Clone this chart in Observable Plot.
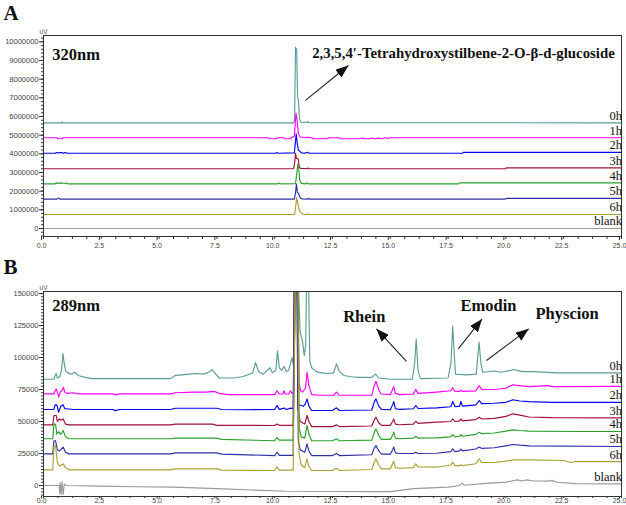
<!DOCTYPE html>
<html><head><meta charset="utf-8">
<script src="https://cdn.jsdelivr.net/npm/d3@7"></script>
<script src="https://cdn.jsdelivr.net/npm/@observablehq/plot@0.6"></script>
<style>
body{margin:0;background:#fff;}
#wrap{position:relative;width:626px;height:505px;overflow:hidden;background:#fff;}
#pa{position:absolute;left:0;top:0;}
#pb{position:absolute;left:0;top:250px;}
</style></head><body>
<div id="wrap"><div id="pa"></div><div id="pb"></div></div>
<script>
// ---------- categories / styling keys ----------
const seriesNames = ["0h","1h","2h","3h","4h","5h","6h","blank"];
const seriesColors = ["#5b9c98","#ff00ff","#0000f0","#a01038","#2ca02c","#2e2ea6","#a9a232","#9a9a9a"];
const xMajorTicks = [0,2.5,5,7.5,10,12.5,15,17.5,20,22.5,25];
const yMajorTicksA = [0,1e6,2e6,3e6,4e6,5e6,6e6,7e6,8e6,9e6,1e7];
const yMajorTicksB = [0,25000,50000,75000,100000,125000,150000];

// ---------- Panel A (320 nm), values in millions of uV: [time, value] ----------
const a0h = [[0,5.66],[0.78,5.66],[0.8,5.71],[0.83,5.66],[10.82,5.66],[10.86,5.8],[10.9,9.7],[10.95,9.6],[10.99,7.0],[11.03,6.85],[11.07,5.9],[11.12,5.7],[11.4,5.68],[11.43,5.73],[11.47,5.67],[25,5.66]];
const a1h = [[0,4.86],[0.6,4.86],[0.62,4.81],[0.82,4.81],[0.84,4.86],[9.72,4.86],[9.75,4.81],[10.1,4.81],[10.12,4.86],[10.4,4.86],[10.42,4.81],[10.7,4.81],[10.72,4.86],[10.85,4.95],[10.92,6.18],[10.97,5.8],[11.02,5.1],[11.1,4.9],[11.4,4.86],[11.45,4.9],[11.5,4.86],[11.62,4.86],[11.65,4.81],[12.0,4.81],[12.05,4.84],[12.1,4.81],[12.3,4.81],[12.33,4.86],[12.8,4.86],[12.83,4.81],[13.7,4.81],[13.8,4.84],[13.9,4.81],[14.1,4.81],[14.2,4.85],[14.3,4.81],[14.5,4.84],[14.6,4.81],[14.8,4.86],[14.9,4.82],[15.0,4.86],[25,4.86]];
const a2h = [[0,4.03],[0.52,4.03],[0.55,4.07],[0.65,4.05],[0.75,4.07],[0.85,4.04],[0.95,4.07],[1.03,4.03],[10.05,4.03],[10.1,4.07],[10.15,4.03],[10.85,4.05],[10.93,5.07],[10.98,4.5],[11.02,4.2],[11.08,4.15],[11.15,4.05],[11.35,4.04],[11.42,4.08],[11.5,4.03],[18.12,4.03],[18.16,4.08],[25,4.08]];
const a3h = [[0,3.2],[10.82,3.2],[10.86,3.5],[10.9,4.03],[10.94,3.75],[11.02,3.72],[11.06,3.3],[11.12,3.22],[11.42,3.2],[11.46,3.24],[11.5,3.2],[19.98,3.2],[20.02,3.25],[25,3.25]];
const a4h = [[0,2.39],[0.5,2.39],[0.55,2.44],[0.7,2.42],[0.8,2.44],[0.9,2.41],[1.0,2.44],[1.05,2.39],[10.12,2.39],[10.17,2.44],[10.22,2.39],[10.9,2.4],[10.96,3.0],[11.0,3.47],[11.04,3.2],[11.08,2.6],[11.15,2.42],[11.35,2.39],[11.4,2.45],[11.45,2.39],[17.94,2.39],[17.98,2.44],[25,2.44]];
const a5h = [[0,1.57],[0.58,1.57],[0.61,1.62],[0.68,1.62],[0.71,1.57],[10.85,1.57],[10.9,1.9],[10.94,2.38],[10.98,1.95],[11.04,1.85],[11.1,1.65],[11.18,1.58],[11.42,1.57],[11.46,1.62],[11.5,1.57],[19.98,1.57],[20.02,1.61],[25,1.61]];
const a6h = [[0,0.75],[10.86,0.75],[10.9,1.1],[10.95,1.65],[11.0,1.35],[11.06,1.0],[11.12,0.85],[11.2,0.78],[11.3,0.75],[11.42,0.75],[11.46,0.79],[11.5,0.75],[25,0.75]];
const aBlank = [[0,0],[25,0]];

// ---------- Panel B (289 nm), values in thousands of uV: [time, value] ----------
const b0h = [[0,83],[0.45,83],[0.5,86],[0.55,87.5],[0.6,84],[0.7,85],[0.78,90],[0.84,103],[0.9,95],[0.95,90],[1.05,88],[1.2,87],[1.35,88.5],[1.5,86],[1.8,84.5],[2.1,83.5],[5.5,83.5],[5.7,86],[6.0,86.5],[6.3,87],[6.6,87.5],[6.9,87],[7.1,88],[7.3,90.5],[7.45,87],[7.6,84],[8.2,84],[8.6,85],[8.9,87],[9.05,88],[9.17,96],[9.3,89],[9.5,87],[9.8,92],[9.9,88],[10.05,90],[10.12,105],[10.2,92],[10.3,90],[10.4,93],[10.5,89],[10.6,90],[10.75,100],[10.82,93],[10.86,120],[10.9,160],[11.02,160],[11.1,120],[11.2,113],[11.28,101.5],[11.34,110],[11.38,160],[11.46,160],[11.52,97],[11.6,92],[11.8,89],[12.0,88],[12.3,87.5],[12.55,88],[12.67,95],[12.8,89],[13.0,86],[13.3,85],[13.6,84.5],[14.2,84.5],[14.36,87],[14.5,84],[15.0,83],[15.95,83],[16.05,95],[16.12,114.5],[16.2,90],[16.3,83.5],[17.5,84],[17.62,95],[17.7,124.5],[17.76,105],[17.82,87],[18.3,86.5],[18.72,87],[18.78,100],[18.84,112],[18.92,95],[19.0,88.5],[19.5,89.5],[19.8,88.5],[20.34,90.6],[20.7,89],[21.2,89],[22.2,88],[25,88]];
const b1h = [[0,71.6],[0.45,71.6],[0.5,74],[0.55,75.5],[0.62,72],[0.66,69],[0.72,73],[0.8,74],[0.86,76.8],[0.92,73],[1.0,72],[1.3,72.5],[1.5,71.6],[3.0,71.6],[3.1,70.8],[3.3,71.6],[5.5,71.6],[5.7,72.5],[6.5,73],[7.0,73],[7.4,73.5],[7.6,72],[8.0,71],[10.0,71],[10.1,74],[10.2,71.5],[10.35,71.5],[10.4,74],[10.45,71.5],[10.6,71.5],[10.68,74],[10.75,72],[10.83,73],[10.88,160],[11.0,160],[11.05,80],[11.12,74],[11.2,73],[11.33,76],[11.4,88.5],[11.48,78],[11.6,71],[12.0,70.5],[12.55,70.5],[12.67,73],[12.8,70.5],[14.2,70.5],[14.3,78],[14.38,81.5],[14.5,75],[14.6,71.5],[15.0,71],[15.1,75],[15.15,77.3],[15.22,72],[15.4,71],[16.0,71.5],[16.1,75],[16.2,72],[17.0,73],[17.62,74],[17.7,76.3],[17.8,73.5],[18.0,73.5],[18.05,74.5],[18.12,73.5],[18.7,74],[18.85,78],[18.95,75],[19.5,75],[20.0,76],[20.3,78.7],[20.6,78],[21.0,77.3],[21.8,78],[22.0,77.3],[25,77.5]];
const b2h = [[0,59.4],[0.45,59.4],[0.5,63],[0.58,63],[0.65,57.3],[0.75,62],[0.85,63],[0.92,60],[1.0,60],[1.3,59.4],[3.0,59.4],[3.1,58.5],[3.3,59.4],[5.5,59.4],[5.7,60.4],[7.5,60.4],[7.7,59.4],[8.5,59.2],[10.0,59.4],[10.1,62.5],[10.2,59.5],[10.4,60.5],[10.5,59.4],[10.7,60.5],[10.8,60],[10.86,160],[10.98,160],[11.02,64],[11.12,62.5],[11.25,62],[11.33,64],[11.4,67.7],[11.48,62],[11.6,58.6],[12.5,58.6],[12.67,60.7],[12.8,58.6],[14.2,59],[14.3,65],[14.38,67.7],[14.5,62],[14.62,59.5],[15.0,59.2],[15.1,63],[15.15,65.6],[15.22,60],[15.4,59.5],[16.0,60],[16.1,62.5],[16.2,60.2],[17.0,60.7],[17.62,61.5],[17.7,65.6],[17.8,61.5],[18.0,62],[18.05,65.6],[18.12,62],[18.7,63],[18.85,66.4],[18.95,64],[19.5,64.3],[20.0,65],[20.3,67],[20.6,66],[21.0,65.5],[22.0,65],[25,65]];
const b3h = [[0,47.4],[0.4,47.4],[0.45,54.7],[0.55,54.7],[0.6,50],[0.68,52],[0.75,51],[0.85,52],[0.95,48],[1.1,47.4],[5.5,47.4],[5.7,48],[7.3,48],[7.5,47],[10.0,46.9],[10.1,48],[10.2,47],[10.8,47],[10.84,160],[10.96,160],[11.0,60],[11.1,50],[11.3,48],[11.4,54.7],[11.48,50],[11.6,46],[12.5,46],[12.67,47.5],[12.8,46],[14.2,46.5],[14.3,51],[14.38,53.4],[14.5,49],[14.62,47],[15.0,47],[15.1,50],[15.15,52],[15.22,48],[15.4,47.5],[16.0,48],[16.1,50.2],[16.2,48.5],[17.0,49.5],[17.62,50],[17.7,52],[17.8,50],[18.0,50.5],[18.05,52],[18.12,50.5],[18.7,51.5],[18.85,53.4],[18.95,52],[19.5,52.5],[20.0,54],[20.3,56],[20.6,55],[21.0,53.5],[22.0,53],[25,52.9]];
const b4h = [[0,36.5],[0.4,36.5],[0.45,48],[0.52,48],[0.58,40],[0.65,42],[0.75,40],[0.85,43],[0.95,38],[1.1,36.5],[5.5,36.5],[5.7,37],[7.5,37],[7.7,36],[10.0,35],[10.1,37.5],[10.2,35.5],[10.8,35.5],[10.9,160],[11.02,160],[11.06,45],[11.15,38],[11.3,37],[11.4,47],[11.48,40],[11.6,35],[12.5,35],[12.67,36.5],[12.8,35],[14.2,35.5],[14.3,41],[14.38,44.3],[14.5,39],[14.62,36],[15.0,36],[15.1,39.5],[15.15,41.7],[15.22,37],[15.4,36.5],[16.0,37],[16.1,38.5],[16.2,37],[17.0,37.2],[17.62,38],[17.7,39.8],[17.8,38],[18.0,38.5],[18.05,39.8],[18.12,38.5],[18.7,40],[18.85,41.6],[18.95,40.5],[19.5,41],[20.0,42.5],[20.3,43.5],[20.6,43],[21.0,42.5],[23.0,42.2],[25,42.2]];
const b5h = [[0,24.7],[0.4,24.7],[0.45,35],[0.52,35],[0.6,28],[0.7,27],[0.85,30],[0.95,26],[1.1,24.7],[5.5,24.7],[5.7,25.5],[7.5,25.5],[7.7,24.5],[10.0,23.4],[10.1,26],[10.2,23.5],[10.8,23.5],[10.85,160],[10.97,160],[11.02,35],[11.1,28],[11.3,26],[11.4,32.5],[11.48,27],[11.6,23.4],[12.5,23.4],[12.67,25],[12.8,23.4],[14.2,24],[14.3,29],[14.38,31.2],[14.5,27],[14.62,24.5],[15.0,24.5],[15.1,28],[15.15,30],[15.22,25.5],[15.4,25],[16.0,25],[16.1,26],[16.2,25],[17.0,25.2],[17.62,26.5],[17.7,28.6],[17.8,26.5],[18.0,27],[18.05,28.5],[18.12,27],[18.7,28.5],[18.85,30],[18.95,29],[19.5,29.5],[20.0,31],[20.3,32],[20.6,31.5],[21.0,31],[25,30.5]];
const b6h = [[0,12.2],[0.4,12.2],[0.45,31],[0.52,31],[0.6,18],[0.7,15],[0.85,17],[0.95,14],[1.1,12.2],[5.5,12.2],[5.7,13],[7.5,13],[7.7,12],[10.0,11.7],[10.1,14.5],[10.2,12],[10.8,12],[10.88,160],[11.0,160],[11.05,25],[11.15,16],[11.3,14],[11.4,20.8],[11.48,15],[11.6,11.7],[12.5,11.7],[12.67,13.5],[12.8,11.7],[14.2,12.5],[14.3,18],[14.38,20.8],[14.5,16],[14.62,13],[15.0,13],[15.1,17],[15.15,19],[15.22,14],[15.4,13.5],[16.0,14],[16.1,17],[16.2,14.5],[17.0,14.3],[17.62,16],[17.7,18.2],[17.8,15.5],[18.0,15.5],[18.05,16.2],[18.12,15.5],[18.7,17],[18.85,20.8],[18.95,18],[19.5,18],[20.0,19],[20.3,20],[21.0,20],[22.5,19.5],[22.8,18],[23.0,18.7],[25,18.7]];
const bBlank = [[0,0],[0.5,0],[0.68,0],[0.7,-6],[0.72,2],[0.76,-7],[0.8,2.6],[0.85,-7],[0.9,1],[1.0,0],[2.5,-0.5],[4.0,-1],[5.6,-1.3],[7.5,-2.5],[9.0,-3.5],[10.5,-4.5],[14.6,-4.8],[15.0,-4.8],[16.0,-2.5],[17.5,-1.3],[18.0,0],[18.1,1.8],[18.2,0.2],[19.0,1.5],[20.0,2.6],[20.5,4.4],[20.7,3.5],[20.9,4.4],[21.2,3.5],[21.8,3.4],[22.0,4],[22.2,2.5],[23.0,1.5],[25,1.3]];

// ---------- annotations (data space) ----------
const annoA = [{label:"2,3,5,4\u2032-Tetrahydroxystilbene-2-O-\u03b2-d-glucoside", t:11.62, v:9.13e6}];
const wavelengthA = [{label:"320nm", t:0.38, v:9.04e6}];
const arrowsA = [{t1:11.33, v1:6.86e6, t2:13.19, v2:8.73e6}];
const annoB = [{label:"Rhein", t:12.96, v:127600},{label:"Emodin", t:18.04, v:136700},{label:"Physcion", t:21.28, v:130200}];
const wavelengthB = [{label:"289nm", t:0.38, v:136700}];
const arrowsB = [{t1:15.7, v1:96900, t2:14.4, v2:122400},{t1:17.94, v1:106800, t2:18.97, v2:130200},{t1:19.16, v1:97700, t2:20.99, v2:122400}];

const UNIT_A = 1e6, UNIT_B = 1e3;
const serif = "'Liberation Serif','Times New Roman',serif";
const sans = "'Liberation Sans',Arial,sans-serif";

function toRows(list, unit) {
  const rows = [];
  list.forEach((s, i) => s.forEach(([t, v]) => rows.push({t, v: v * unit, series: seriesNames[i]})));
  return rows;
}
function lastRows(list, unit) {
  return list.map((s, i) => ({t: s[s.length-1][0], v: s[s.length-1][1]*unit, series: seriesNames[i]}));
}
function fixMarkers(svg) {
  svg.querySelectorAll("marker").forEach(m => {
    m.setAttribute("viewBox", "-13 -5 13 10");
    m.setAttribute("markerWidth", "13");
    m.setAttribute("markerHeight", "10");
    m.setAttribute("markerUnits", "userSpaceOnUse");
    m.setAttribute("refX", "0");
    m.setAttribute("refY", "0");
    m.setAttribute("fill", "#111");
    m.setAttribute("stroke", "none");
    while (m.firstChild) m.removeChild(m.firstChild);
    const p = document.createElementNS("http://www.w3.org/2000/svg", "path");
    p.setAttribute("d", "M-13,-5L0,0L-13,5Z");
    m.appendChild(p);
  });
}

function panel(cfg) {
  const rows = toRows(cfg.series, cfg.unit);
  const ends = lastRows(cfg.series, cfg.unit);
  const svg = Plot.plot({
    width: 626, height: cfg.height,
    marginLeft: 43, marginRight: 5, marginTop: cfg.mt, marginBottom: cfg.mb,
    x: {domain: [0, 25]},
    y: {domain: cfg.ydomain},
    color: {domain: seriesNames, range: seriesColors},
    style: {fontFamily: sans, fontSize: "7px", background: "white", color: "#333"},
    marks: [
      Plot.line(rows, {x: "t", y: "v", z: "series", stroke: "series", strokeWidth: 1.15, clip: true}),
      Plot.frame({stroke: "#333", strokeWidth: 1}),
      Plot.axisY(d3.range(cfg.minorY[0], cfg.minorY[1], cfg.minorY[2]), {tickSize: 2, tickFormat: () => "", stroke: "#333"}),
      Plot.axisY(cfg.yticks, {tickSize: 4, tickPadding: 1, tickFormat: d3.format("d"), stroke: "#333", fill: "#444", fontSize: 7.5}),
      Plot.axisX(d3.range(0, 25.0001, 0.625), {tickSize: cfg.xMinorSize, tickFormat: () => "", stroke: "#333"}),
      Plot.axisX(xMajorTicks, {tickSize: cfg.xMajorSize, tickPadding: cfg.xpad, tickFormat: d3.format(".1f"), stroke: "#333", fill: "#444", fontSize: 7, dx: -2}),
      Plot.text(["uV"], {text: d => d, frameAnchor: "top-left", dy: -2, lineAnchor: "bottom", textAnchor: "middle", fontSize: 6.5, fill: "#555"}),
      Plot.text([cfg.letter], {text: d => d, frameAnchor: "top-left", dx: -40, dy: cfg.letterDy, lineAnchor: "bottom", textAnchor: "start", fontFamily: serif, fontWeight: "bold", fontSize: 21, fill: "#111"}),
      Plot.text(cfg.wave, {x: "t", y: "v", text: "label", lineAnchor: "bottom", textAnchor: "start", fontFamily: serif, fontWeight: "bold", fontSize: 16.5, fill: "#111"}),
      Plot.text(cfg.anno, {x: "t", y: "v", text: "label", lineAnchor: "bottom", textAnchor: "start", fontFamily: serif, fontWeight: "bold", fontSize: cfg.annoSize, fill: "#111"}),
      Plot.link(cfg.arrows, {x1: "t1", y1: "v1", x2: "t2", y2: "v2", stroke: "#222", strokeWidth: 1.1, markerEnd: "arrow"}),
      Plot.text(ends, {x: "t", y: "v", text: "series", dx: 0.5, dy: -3, lineAnchor: "bottom", textAnchor: "end", fontFamily: serif, fontSize: 12.5, fill: "#111"})
    ]
  });
  fixMarkers(svg);
  return svg;
}

document.getElementById("pa").appendChild(panel({
  series: [a0h,a1h,a2h,a3h,a4h,a5h,a6h,aBlank], unit: UNIT_A,
  height: 250, mt: 35, mb: 14, ydomain: [-0.43e6, 10.34e6],
  minorY: [-0.4e6, 10.3e6, 0.2e6], yticks: yMajorTicksA, xpad: 2.5, xMinorSize: 3, xMajorSize: 4,
  letter: "A", letterDy: -15.5, wave: wavelengthA, anno: annoA, annoSize: 14.8, arrows: arrowsA
}));
document.getElementById("pb").appendChild(panel({
  series: [b0h,b1h,b2h,b3h,b4h,b5h,b6h,bBlank], unit: UNIT_B,
  height: 255, mt: 41, mb: 9, ydomain: [-8600, 151600],
  minorY: [-7500, 151000, 2500], yticks: yMajorTicksB, xpad: -0.5, xMinorSize: 2, xMajorSize: 2.5,
  letter: "B", letterDy: -17.5, wave: wavelengthB, anno: annoB, annoSize: 16.5, arrows: arrowsB
}));
</script></body></html>
